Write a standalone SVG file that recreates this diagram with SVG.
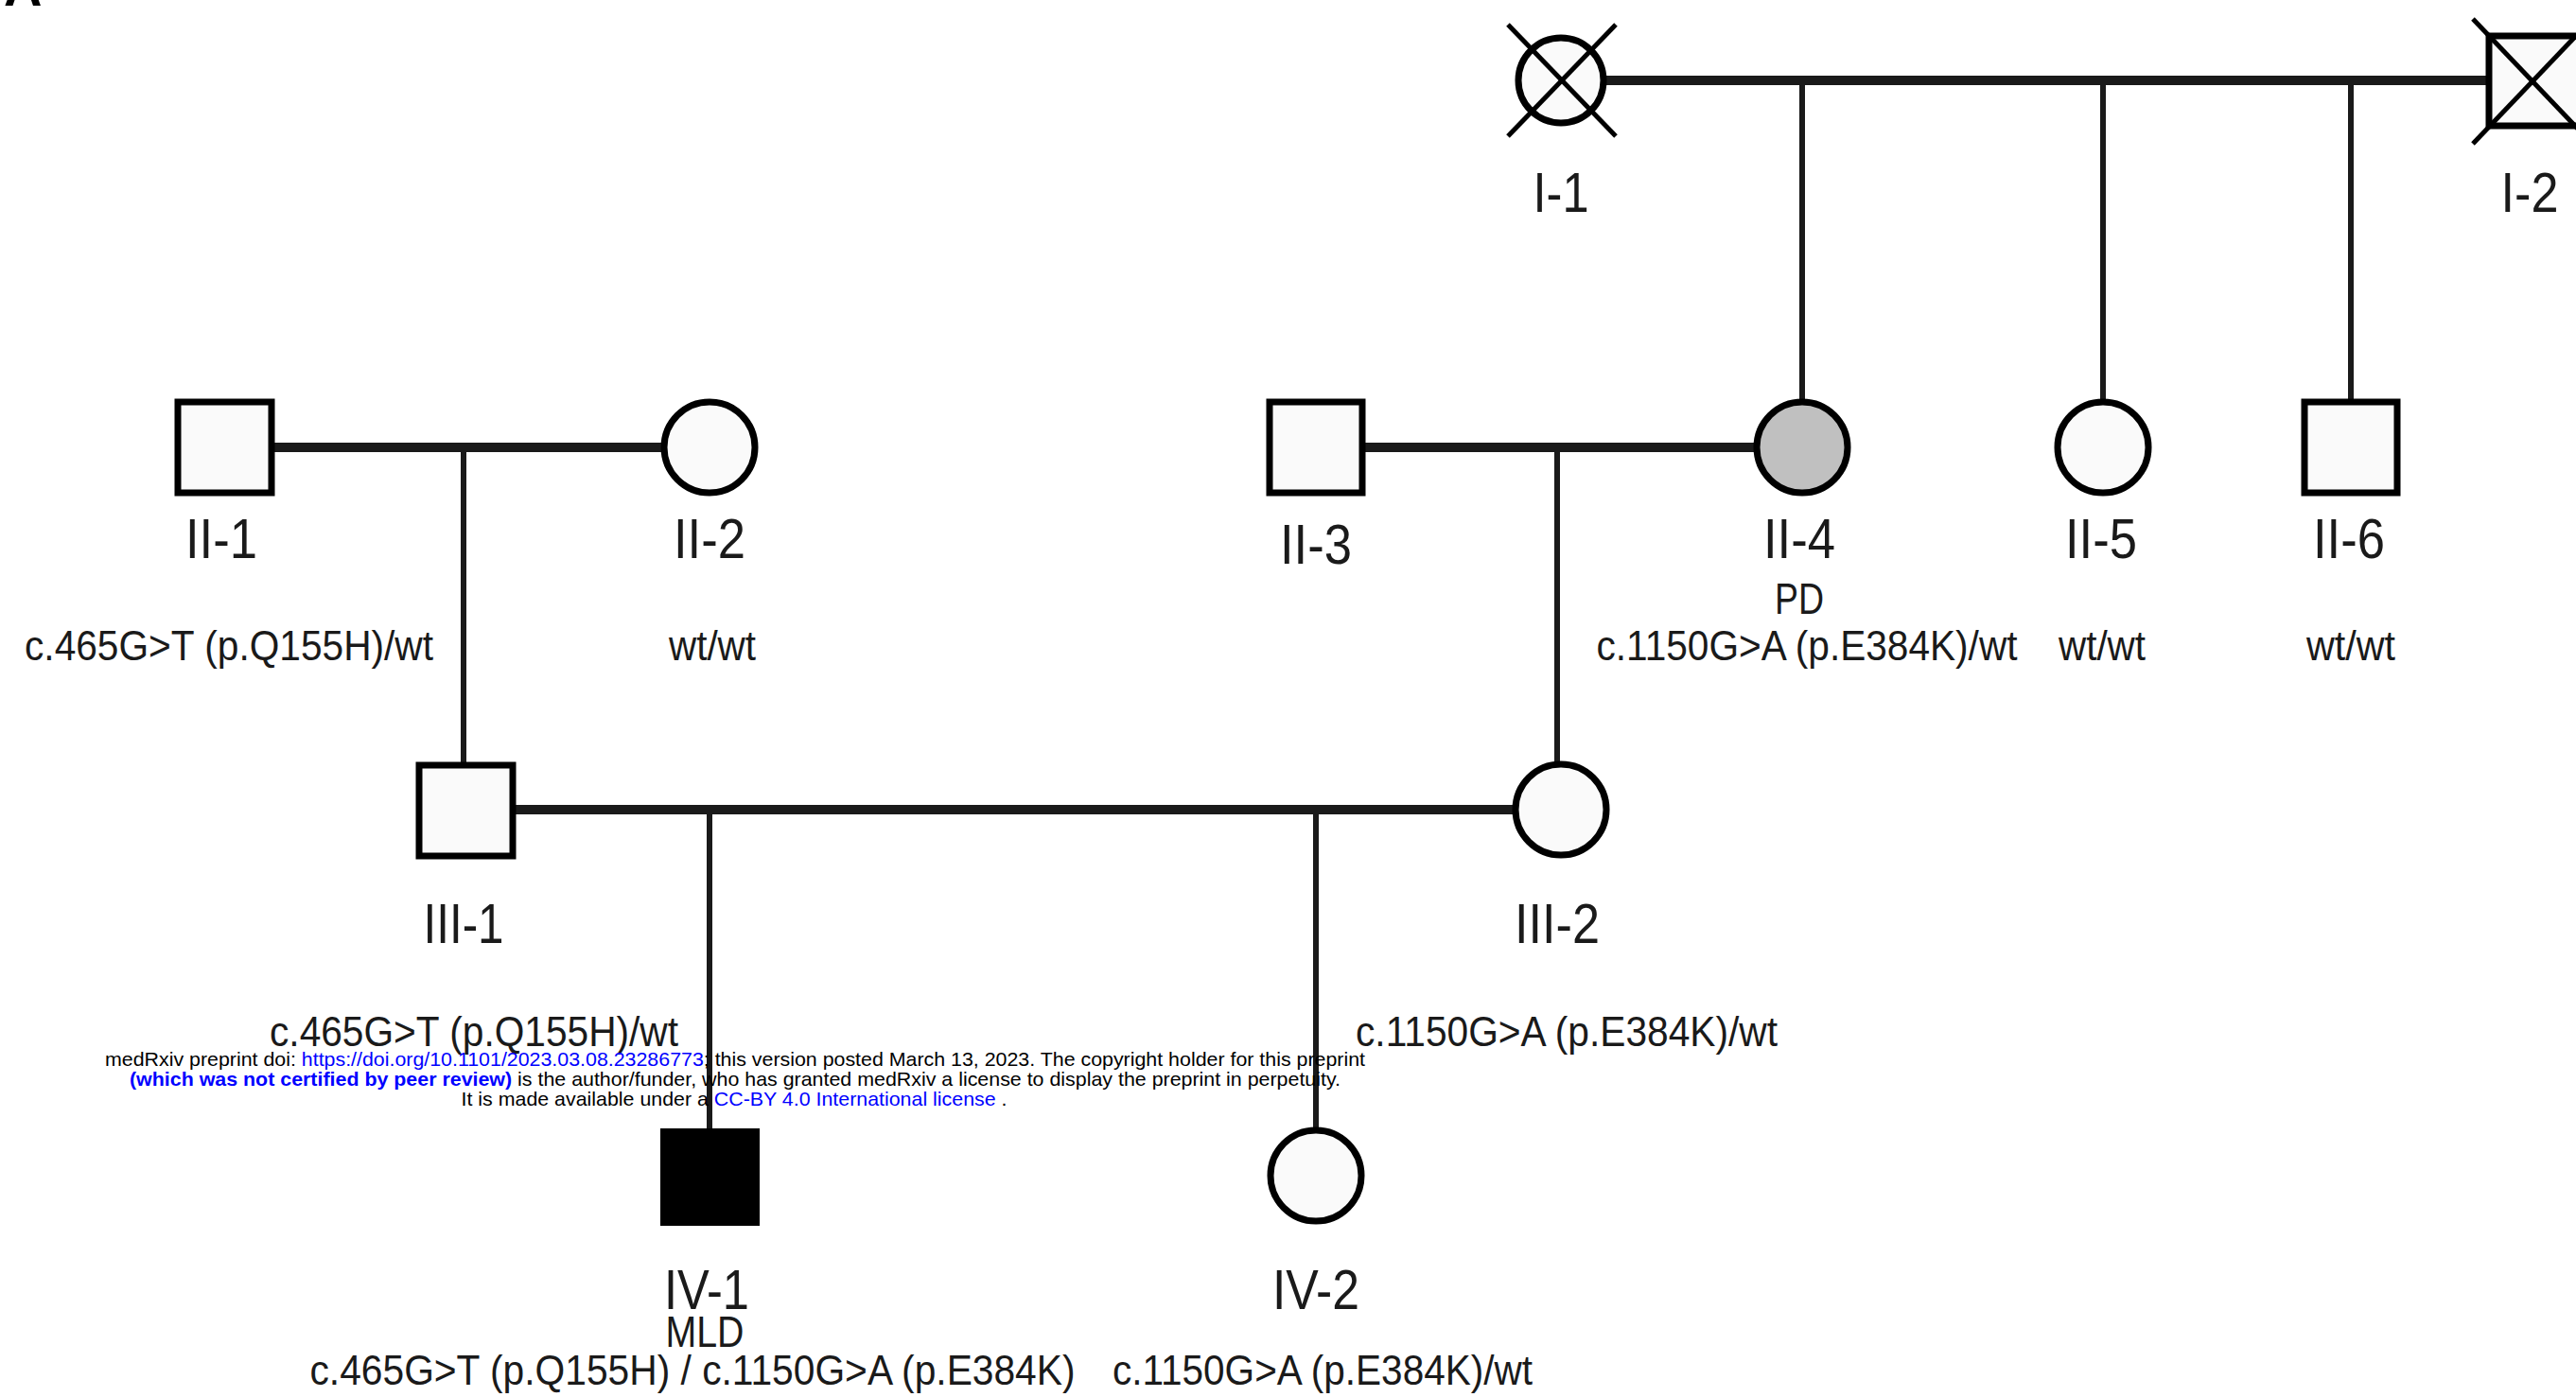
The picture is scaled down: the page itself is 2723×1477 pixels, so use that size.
<svg xmlns="http://www.w3.org/2000/svg" width="2723" height="1477" viewBox="0 0 2723 1477">
<defs>
<style>
.bg{fill:#ffffff}
.sq{fill:#fafafa;stroke:#000;stroke-width:7}
.ci{fill:#fafafa;stroke:#000;stroke-width:7}
.aff{fill:#000;stroke:#000;stroke-width:4}
.pd{fill:#c0c0c0;stroke:#000;stroke-width:7}
.x{stroke:#000;stroke-width:5;fill:none}
.mar{stroke:#1a1a1a;stroke-width:10;fill:none}
.des{stroke:#1a1a1a;stroke-width:6;fill:none}
.lbl{font-family:"Liberation Sans",Arial,sans-serif;font-size:60px;fill:#1a1a1a;text-anchor:middle}
.gen{font-family:"Liberation Sans",Arial,sans-serif;font-size:44px;fill:#1a1a1a;text-anchor:middle}
.dx{font-family:"Liberation Sans",Arial,sans-serif;font-size:46px;fill:#1a1a1a;text-anchor:middle}
.wm{font-family:"Liberation Sans",Arial,sans-serif;font-size:21px;fill:#000;text-anchor:middle}
.lnk{fill:#0000ff}
</style>
</defs>
<rect class="bg" x="0" y="0" width="2723" height="1477"/>
<text x="4" y="6" font-family="Liberation Sans,Arial,sans-serif" font-size="56" font-weight="bold" fill="#000">A</text>

<g id="connectors">
<line class="mar" x1="1695" y1="85" x2="2631" y2="85"/>
<line class="des" x1="1905" y1="85" x2="1905" y2="425"/>
<line class="des" x1="2223" y1="85" x2="2223" y2="425"/>
<line class="des" x1="2485" y1="85" x2="2485" y2="425"/>
<line class="mar" x1="287" y1="473" x2="702" y2="473"/>
<line class="des" x1="490" y1="473" x2="490" y2="809"/>
<line class="mar" x1="1440" y1="473" x2="1857" y2="473"/>
<line class="des" x1="1646" y1="473" x2="1646" y2="808"/>
<line class="mar" x1="542" y1="856" x2="1602" y2="856"/>
<line class="des" x1="750" y1="856" x2="750" y2="1195"/>
<line class="des" x1="1391" y1="856" x2="1391" y2="1195"/>
</g>

<g id="I-1">
<circle class="ci" cx="1650" cy="85" r="45"/>
<line class="x" x1="1594" y1="26" x2="1708" y2="144"/>
<line class="x" x1="1708" y1="26" x2="1594" y2="144"/>
<text class="lbl" x="1650" y="224" textLength="59" lengthAdjust="spacingAndGlyphs">I-1</text>
</g>
<g id="I-2">
<rect class="sq" x="2631" y="38" width="97" height="95"/>
<line class="x" x1="2614" y1="20" x2="2740" y2="152"/>
<line class="x" x1="2740" y1="20" x2="2614" y2="152"/>
<text class="lbl" x="2674" y="224" textLength="61" lengthAdjust="spacingAndGlyphs">I-2</text>
</g>

<g id="II-1">
<rect class="sq" x="188" y="425" width="99" height="96"/>
<text class="lbl" x="234" y="590" textLength="76" lengthAdjust="spacingAndGlyphs">II-1</text>
<text class="gen" x="242" y="698" textLength="432" lengthAdjust="spacingAndGlyphs">c.465G&gt;T (p.Q155H)/wt</text>
</g>
<g id="II-2">
<circle class="ci" cx="750" cy="473" r="48"/>
<text class="lbl" x="750" y="590" textLength="76" lengthAdjust="spacingAndGlyphs">II-2</text>
<text class="gen" x="753" y="698" textLength="92" lengthAdjust="spacingAndGlyphs">wt/wt</text>
</g>
<g id="II-3">
<rect class="sq" x="1342" y="425" width="98" height="96"/>
<text class="lbl" x="1391" y="596" textLength="76" lengthAdjust="spacingAndGlyphs">II-3</text>
</g>
<g id="II-4">
<circle class="pd" cx="1905" cy="473" r="48"/>
<text class="lbl" x="1902" y="590" textLength="76" lengthAdjust="spacingAndGlyphs">II-4</text>
<text class="dx" x="1902" y="649" textLength="52" lengthAdjust="spacingAndGlyphs">PD</text>
<text class="gen" x="1910" y="698" textLength="445" lengthAdjust="spacingAndGlyphs">c.1150G&gt;A (p.E384K)/wt</text>
</g>
<g id="II-5">
<circle class="ci" cx="2223" cy="473" r="48"/>
<text class="lbl" x="2221" y="590" textLength="76" lengthAdjust="spacingAndGlyphs">II-5</text>
<text class="gen" x="2222" y="698" textLength="92" lengthAdjust="spacingAndGlyphs">wt/wt</text>
</g>
<g id="II-6">
<rect class="sq" x="2436" y="425" width="98" height="96"/>
<text class="lbl" x="2483" y="590" textLength="76" lengthAdjust="spacingAndGlyphs">II-6</text>
<text class="gen" x="2485" y="698" textLength="94" lengthAdjust="spacingAndGlyphs">wt/wt</text>
</g>

<g id="III-1">
<rect class="sq" x="443" y="809" width="99" height="96"/>
<text class="lbl" x="490" y="997" textLength="85" lengthAdjust="spacingAndGlyphs">III-1</text>
<text class="gen" x="501" y="1106" textLength="432" lengthAdjust="spacingAndGlyphs">c.465G&gt;T (p.Q155H)/wt</text>
</g>
<g id="III-2">
<circle class="ci" cx="1650" cy="856" r="48"/>
<text class="lbl" x="1646" y="997" textLength="90" lengthAdjust="spacingAndGlyphs">III-2</text>
<text class="gen" x="1656" y="1106" textLength="446" lengthAdjust="spacingAndGlyphs">c.1150G&gt;A (p.E384K)/wt</text>
</g>

<g id="watermark">
<text class="wm" x="777" y="1127" textLength="1332" lengthAdjust="spacingAndGlyphs">medRxiv preprint doi: <tspan class="lnk">https://doi.org/10.1101/2023.03.08.23286773</tspan>; this version posted March 13, 2023. The copyright holder for this preprint</text>
<text class="wm" x="777" y="1148" textLength="1280" lengthAdjust="spacingAndGlyphs"><tspan class="lnk" font-weight="bold">(which was not certified by peer review)</tspan> is the author/funder, who has granted medRxiv a license to display the preprint in perpetuity.</text>
<text class="wm" x="776" y="1169" textLength="577" lengthAdjust="spacingAndGlyphs">It is made available under a <tspan class="lnk">CC-BY 4.0 International license</tspan> .</text>
</g>

<g id="IV-1">
<rect class="aff" x="700" y="1195" width="101" height="99"/>
<text class="lbl" x="747" y="1384" textLength="90" lengthAdjust="spacingAndGlyphs">IV-1</text>
<text class="dx" x="745" y="1424" textLength="83" lengthAdjust="spacingAndGlyphs">MLD</text>
<text class="gen" x="732" y="1464" textLength="809" lengthAdjust="spacingAndGlyphs">c.465G&gt;T (p.Q155H) / c.1150G&gt;A (p.E384K)</text>
</g>
<g id="IV-2">
<circle class="ci" cx="1391" cy="1243" r="48"/>
<text class="lbl" x="1391" y="1384" textLength="92" lengthAdjust="spacingAndGlyphs">IV-2</text>
<text class="gen" x="1398" y="1464" textLength="444" lengthAdjust="spacingAndGlyphs">c.1150G&gt;A (p.E384K)/wt</text>
</g>
</svg>
